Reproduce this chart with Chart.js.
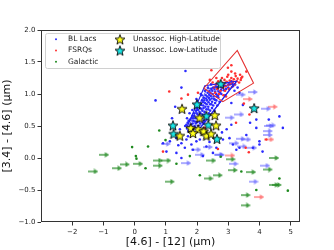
<!DOCTYPE html>
<html>
<head>
<meta charset="utf-8">
<script src="https://cdn.jsdelivr.net/npm/chart.js@4.4.1/dist/chart.umd.min.js"></script>
<style>
  html, body { margin: 0; padding: 0; background: #fff; }
</style>
</head>
<body>
<canvas id="chart" width="334" height="250"></canvas>
<script>
// --- data: [ [4.6]-[12], [3.4]-[4.6] ] ---
const blLacDots = [
  [1.62,0.50],[1.70,0.55],[1.75,0.48],[1.78,0.60],[1.82,0.52],[1.85,0.66],[1.88,0.58],[1.90,0.70],[1.92,0.50],[1.95,0.62],
  [1.97,0.74],[2.00,0.56],[2.02,0.68],[2.04,0.80],[2.06,0.60],[2.08,0.72],[2.10,0.85],[2.12,0.64],[2.14,0.77],[2.16,0.90],
  [2.18,0.68],[2.20,0.82],[2.22,0.94],[2.24,0.72],[2.26,0.86],[2.28,0.98],[2.30,0.76],[2.32,0.90],[2.34,1.02],[2.36,0.80],
  [2.38,0.94],[2.40,1.05],[2.42,0.84],[2.44,0.97],[2.46,1.08],[2.48,0.88],[2.50,1.00],[2.52,1.10],[2.55,0.92],[2.58,1.04],
  [2.60,1.12],[2.63,0.96],[2.66,1.07],[2.70,1.14],[2.74,1.02],[2.78,1.10],[2.82,1.16],[2.86,1.06],[2.90,1.13],[2.95,1.18],
  [3.00,1.10],[3.05,1.15],[3.10,1.20],[3.15,1.12],[1.72,0.42],[1.80,0.45],[1.88,0.44],[1.96,0.46],[2.04,0.50],[2.10,0.54],
  [2.00,0.88],[1.94,0.84],[2.15,0.98],[2.25,1.05],[2.05,0.45],[2.18,0.55],[2.28,0.62],[2.38,0.70],[2.48,0.78],[2.58,0.86],
  [2.68,0.95],[2.78,1.00],[1.85,0.75],[1.98,0.92],[2.12,1.00],[2.35,1.10],[2.45,1.15],[2.55,0.74],[2.65,0.82],[2.90,0.98],
  [3.20,1.05],[3.30,1.10],[1.68,0.62],[1.76,0.70],[2.22,0.58],[2.32,0.66],[2.42,0.74],[2.52,0.82],[2.62,0.90],[2.72,0.88],
  [1.66,0.52],[1.73,0.58],[1.79,0.50],[1.83,0.63],[1.86,0.54],[1.91,0.66],[1.93,0.57],[1.99,0.70],[2.01,0.62],[2.03,0.75],
  [2.07,0.66],[2.09,0.78],[2.11,0.70],[2.13,0.83],[2.17,0.74],[2.19,0.87],[2.21,0.78],[2.23,0.90],[2.27,0.80],[2.29,0.93],
  [2.31,0.84],[2.33,0.96],[2.37,0.87],[2.39,0.99],[2.41,0.91],[2.43,1.02],[2.47,0.93],[2.49,1.05],[2.53,0.96],[2.56,1.08],
  [2.61,1.00],[2.64,1.11],[2.69,1.04],[2.73,1.16],[2.77,1.06],[2.84,1.12],[2.93,1.08],[3.02,1.17],[3.12,1.16],[3.22,1.15],
  [2.15,0.62],[2.26,0.68],[2.36,0.76],[2.46,0.84],[2.57,0.91],[2.67,0.98],[1.96,0.54],[2.07,0.57],[1.89,0.62],[2.00,0.78],
  [1.63,1.36],[0.67,0.90],[1.50,1.10],[1.30,0.80],[1.20,0.62],
  [0.91,0.23],[1.13,0.26],[1.34,0.31],[1.50,0.23],[1.66,0.29],[1.82,0.21],[1.98,0.26],[2.09,0.29],[2.25,0.31],[1.61,0.16],
  [1.87,0.13],[2.30,0.18],[1.71,0.34],[1.02,0.10],[1.34,0.08],[1.50,0.00],[2.19,0.03],[2.51,0.08],[2.62,0.16],[2.83,0.29],
  [3.04,0.31],[3.15,0.21],[3.36,0.16],[3.79,0.16],[4.00,0.26],[3.58,0.36],[3.90,0.47],[3.36,1.02],[3.10,0.86],[3.47,0.83],
  [3.90,0.60],[4.64,0.65],[4.75,0.47],[4.00,0.21],[3.26,0.13],[2.95,0.45],[3.10,0.52],[2.80,0.40],[1.45,0.45],[1.40,0.20],
  [2.40,0.25],[4.10,0.10],[4.30,0.60],[3.70,0.55]
];
const blLacArrows = [
  [3.79,1.03],[3.40,0.99],[4.22,0.77],[3.36,0.68],[3.05,0.63],[4.38,0.51],[4.27,0.42],[4.27,0.36],[4.30,0.50],[3.58,0.29],
  [3.20,0.23],[3.45,0.18],[2.73,0.05],[1.00,0.22],[2.35,0.17],[1.98,0.13],[2.70,0.05],[3.77,0.16],[1.66,-0.08],[3.17,-0.09],
  [4.19,-0.12],[3.81,-0.37],[3.40,0.30],[2.10,0.05]
];
const fsrqDots = [
  [2.55,1.10],[2.60,1.15],[2.65,1.08],[2.68,1.20],[2.72,1.13],[2.75,1.05],[2.78,1.18],[2.80,1.25],[2.83,1.10],[2.86,1.16],
  [2.88,1.22],[2.90,1.05],[2.92,1.12],[2.95,1.19],[2.97,1.27],[3.00,1.14],[3.02,1.08],[3.05,1.21],[3.08,1.16],[3.10,1.25],
  [3.12,1.11],[3.15,1.19],[3.18,1.23],[3.20,1.15],[3.24,1.28],[3.27,1.20],[3.30,1.24],[3.35,1.18],[3.40,1.22],[3.45,1.27],
  [2.70,1.00],[2.85,0.98],[3.00,1.30],[3.10,1.35],[2.62,1.25],[2.50,1.18],[3.22,1.32],[3.38,1.30],[2.93,0.96],[2.58,1.02],
  [1.11,1.04],[1.71,0.99],[2.03,1.02],[2.41,1.22],[2.46,1.37],[2.99,1.41],[3.10,1.45],[3.58,1.35],[3.42,1.25],[1.50,0.93],
  [3.68,0.68],[3.25,0.55],[2.25,0.47],[0.91,0.10],[2.67,0.14],[3.56,0.16],[3.66,0.09],[4.22,0.29],[3.50,0.85]
];
const fsrqArrows = [[3.63,0.92],[4.43,0.80],[4.32,0.29],[3.07,0.04],[4.00,-0.61]];
const galDots = [
  [-0.08,0.17],[0.43,0.18],[0.04,0.03],[0.06,-0.01],[0.35,-0.16],[0.79,0.43],[0.99,0.28],[1.34,-0.09],[2.09,-0.27],
  [1.77,0.03],[3.42,-0.21],[3.90,-0.50],[4.64,-0.32],[4.91,-0.51],[2.76,0.02]
];
const galArrows = [
  [-0.97,0.05],[-1.32,-0.21],[-0.56,-0.16],[-0.31,-0.10],[0.12,-0.09],[0.75,-0.04],[0.75,-0.12],[1.02,-0.04],[1.13,-0.37],
  [2.37,-0.32],[2.67,-0.27],[2.46,-0.04],[3.08,-0.02],[3.15,-0.19],[3.74,-0.22],[3.56,-0.58],[3.56,-0.74],[4.27,-0.18],
  [4.48,0.00],[4.48,-0.42],[4.56,-0.42]
];
const starsHigh = [
  [1.52,0.77],[2.08,0.63],[2.57,0.67],[2.61,0.51],[1.80,0.47],[2.04,0.45],[2.21,0.42],[1.45,0.35],[1.87,0.39],[2.30,0.35],[2.45,0.38]
];
const starsLow = [
  [2.76,1.16],[2.00,0.84],[2.30,0.66],[1.23,0.51],[1.25,0.38],[2.36,0.52],[2.64,0.30],[3.83,0.78]
];
const fsrqStrip = [[2.22,1.09],[3.29,1.68],[3.81,1.17],[2.83,0.88],[2.22,1.09]];
const bllacStrip = [[1.65,0.45],[2.25,1.13],[3.27,1.20],[2.10,0.47],[1.65,0.45]];
const bllacStripInner = [[1.72,0.48],[2.32,1.08],[3.18,1.16],[2.20,0.52],[1.72,0.48]];
const xTicks = [-2, -1, 0, 1, 2, 3, 4, 5];
const yTicks = [-1.0, -0.5, 0.0, 0.5, 1.0, 1.5, 2.0];

const toXY = arr => arr.map(p => ({ x: p[0], y: p[1] }));
const minus = s => String(s).replace('-', '\u2212');

function makeArrow(color) {
  const c = document.createElement('canvas');
  c.width = 10; c.height = 6;
  const g = c.getContext('2d');
  g.strokeStyle = color; g.fillStyle = color; g.lineWidth = 1.5;
  g.beginPath(); g.moveTo(0, 3); g.lineTo(6.5, 3); g.stroke();
  g.beginPath(); g.moveTo(10, 3); g.lineTo(5.5, 0.3); g.lineTo(5.5, 5.7); g.closePath(); g.fill();
  return c;
}

function makeStar(fill, r) {
  const s = Math.ceil(r * 2 + 3);
  const c = document.createElement('canvas');
  c.width = s; c.height = s;
  const g = c.getContext('2d');
  g.beginPath();
  for (let i = 0; i < 10; i++) {
    const rr = i % 2 ? r * 0.42 : r;
    const a = -Math.PI / 2 + i * Math.PI / 5;
    g.lineTo(s / 2 + rr * Math.cos(a), s / 2 + 0.6 + rr * Math.sin(a));
  }
  g.closePath();
  g.fillStyle = fill; g.fill();
  g.lineWidth = 0.9; g.strokeStyle = '#000'; g.stroke();
  return c;
}

const BLUE = '#2b2bff', RED = '#ff3030', GREEN = '#1f8a1f';
const starYellow = makeStar('#ffff1a', 5.2);
const starCyan = makeStar('#19e6e6', 5.2);

Chart.defaults.font.family = 'DejaVu Sans';
Chart.defaults.color = '#222';

function dots(label, data, color, order) {
  return { label, data: toXY(data), pointRadius: 1.3, pointBorderWidth: 0,
           pointBackgroundColor: color, backgroundColor: color, borderColor: color, order };
}
function arrows(data, color, order) {
  return { label: '', data: toXY(data), pointStyle: makeArrow(color), pointRadius: 5, order };
}
function strip(data, color, order) {
  return { label: '', data: toXY(data), showLine: true, borderColor: color, borderWidth: 1.1,
           pointRadius: 0, fill: false, order };
}

const datasets = [
  dots('BL Lacs', blLacDots, BLUE, 5),
  dots('FSRQs', fsrqDots, RED, 4),
  dots('Galactic', galDots, GREEN, 6),
  arrows(blLacArrows, 'rgba(70,70,255,0.6)', 7),
  arrows(fsrqArrows, 'rgba(255,60,60,0.6)', 7),
  arrows(galArrows, 'rgba(30,135,30,0.8)', 7),
  strip(fsrqStrip, '#e53030', 2),
  strip(bllacStrip, '#2020ee', 3),
  { label: 'Unassoc. High-Latitude', data: toXY(starsHigh), pointStyle: starYellow, pointRadius: 6, order: 0 },
  { label: 'Unassoc. Low-Latitude', data: toXY(starsLow), pointStyle: starCyan, pointRadius: 6, order: 0 },
  strip(bllacStripInner, 'rgba(32,32,238,0.7)', 3)
];

// legend laid out in two columns inside the axes, like the original
const boxLegend = {
  id: 'boxLegend',
  afterDraw(chart) {
    const ctx = chart.ctx, a = chart.chartArea;
    const x0 = a.left + 4.5, y0 = a.top + 3.5, w = 175, h = 35;
    ctx.save();
    ctx.fillStyle = 'rgba(255,255,255,0.85)';
    ctx.strokeStyle = '#d0d0d0';
    ctx.lineWidth = 1;
    ctx.beginPath();
    ctx.roundRect(x0, y0, w, h, 2);
    ctx.fill(); ctx.stroke();
    ctx.font = '7.5px "DejaVu Sans"';
    ctx.textBaseline = 'middle';
    ctx.fillStyle = '#222';
    const cols = [[0, 1, 2], [8, 9]];
    cols.forEach((col, ci) => {
      col.forEach((di, ri) => {
        const ds = chart.data.datasets[di];
        const my = y0 + 5.8 + ri * 11.2;
        const mx = x0 + (ci ? 74.5 : 10.5);
        if (ds.pointStyle instanceof HTMLCanvasElement) {
          ctx.drawImage(ds.pointStyle, mx - ds.pointStyle.width / 2, my - ds.pointStyle.height / 2);
        } else {
          ctx.fillStyle = ds.pointBackgroundColor;
          ctx.beginPath(); ctx.arc(mx, my, 1, 0, Math.PI * 2); ctx.fill();
        }
        ctx.fillStyle = '#222';
        ctx.fillText(ds.label, mx + (ci ? 13 : 12), my);
      });
    });
    ctx.restore();
  }
};

const frame = {
  id: 'frame',
  afterDraw(chart) {
    const ctx = chart.ctx, a = chart.chartArea;
    ctx.save();
    ctx.strokeStyle = '#333';
    ctx.lineWidth = 1;
    ctx.strokeRect(Math.round(a.left) + 0.5, Math.round(a.top) + 0.5,
                   Math.round(a.right - a.left) - 1, Math.round(a.bottom - a.top) - 1);
    ctx.restore();
  }
};

const axisGrid = { display: true, drawOnChartArea: false, drawTicks: true, tickLength: 3.5, color: '#333' };

new Chart(document.getElementById('chart'), {
  type: 'scatter',
  data: { datasets },
  options: {
    responsive: false,
    animation: false,
    layout: { padding: { top: 30, right: 34, left: 0, bottom: 0 } },
    plugins: { legend: { display: false }, tooltip: { enabled: false } },
    scales: {
      x: {
        type: 'linear', min: -3, max: 5.3,
        afterBuildTicks: s => { s.ticks = xTicks.map(v => ({ value: v })); },
        afterFit: s => { s.height = 28; },
        ticks: { font: { size: 7 }, padding: 2, maxRotation: 0, callback: v => minus(v) },
        grid: axisGrid,
        border: { display: false },
        title: { display: true, text: '[4.6] - [12] (\u03bcm)', font: { size: 11 }, color: '#111', padding: { top: 0, bottom: 1 } }
      },
      y: {
        type: 'linear', min: -1, max: 2,
        afterBuildTicks: s => { s.ticks = yTicks.map(v => ({ value: v })); },
        afterFit: s => { s.width = 41; },
        ticks: { font: { size: 7 }, padding: 2, callback: v => minus(v.toFixed(1)) },
        grid: axisGrid,
        border: { display: false },
        title: { display: true, text: '[3.4] - [4.6] (\u03bcm)', font: { size: 11 }, color: '#111', padding: { top: 1, bottom: 0 } }
      }
    }
  },
  plugins: [boxLegend, frame]
});
</script>
</body>
</html>
